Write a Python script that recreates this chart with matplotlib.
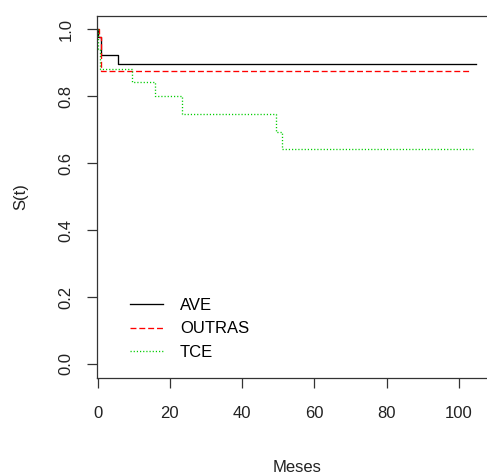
import matplotlib
matplotlib.use('Agg')
import matplotlib.pyplot as plt

plt.rcParams['font.family'] = ['Liberation Sans', 'DejaVu Sans']

# Curvas de sobrevivência (Kaplan-Meier)
ave_t = [0, 0.2, 1.0, 5.7, 104.8]
ave_s = [1.0, 0.975, 0.922, 0.897, 0.897]

outras_t = [0, 0.4, 0.9, 103]
outras_s = [1.0, 0.975, 0.875, 0.875]

tce_t = [0, 0.2, 0.5, 9.4, 15.9, 23.4, 49.3, 51.1, 104]
tce_s = [1.0, 0.94, 0.882, 0.841, 0.80, 0.746, 0.692, 0.641, 0.641]

labels = ['AVE', 'OUTRAS', 'TCE']
x_ticks = [0, 20, 40, 60, 80, 100]
y_ticks = [0.0, 0.2, 0.4, 0.6, 0.8, 1.0]

W, H = 487, 475
fs = 12
fig = plt.figure(figsize=(W / 100, H / 100), dpi=100)
ax = fig.add_axes([96.7 / W, 1 - 377.7 / H, (497 - 96.7) / W, (377.7 - 16) / H])

lw = 0.95
ax.plot(ave_t, ave_s, drawstyle='steps-post', color='black', lw=lw, label=labels[0])
ax.plot(outras_t, outras_s, drawstyle='steps-post', color='#ff0000', lw=lw,
        dashes=(4.5, 2.2), label=labels[1])
ax.plot(tce_t, tce_s, drawstyle='steps-post', color='#00cd00', lw=lw,
        dashes=(0.9, 1.5), label=labels[2])

ax.set_xlim(-0.28, 110.6)
ax.set_ylim(-0.041, 1.039)
ax.set_xticks(x_ticks)
ax.set_xticklabels([str(v) for v in x_ticks])
ax.set_yticks(y_ticks)
ax.set_yticklabels(['%.1f' % v for v in y_ticks], rotation=90, va='center')

ax.spines['right'].set_visible(False)
for s in ax.spines.values():
    s.set_linewidth(0.9)
    s.set_color('#333333')
ax.tick_params(axis='both', length=7.5, width=0.9, color='#333333', labelsize=fs,
               labelcolor='#222222')
ax.tick_params(axis='x', pad=13)
ax.tick_params(axis='y', pad=9)

ax.set_xlabel('Meses', fontsize=fs, labelpad=28, color='#222222')
ax.set_ylabel('S(t)', fontsize=fs, labelpad=22, color='#222222')

ax.legend(loc='upper left', bbox_to_anchor=(130 / W, 1 - 298 / H),
          bbox_transform=fig.transFigure, frameon=False, fontsize=fs,
          handlelength=2.0, handletextpad=1.0, labelspacing=0.5,
          borderpad=0, borderaxespad=0)

fig.savefig('out.png', dpi=100)
